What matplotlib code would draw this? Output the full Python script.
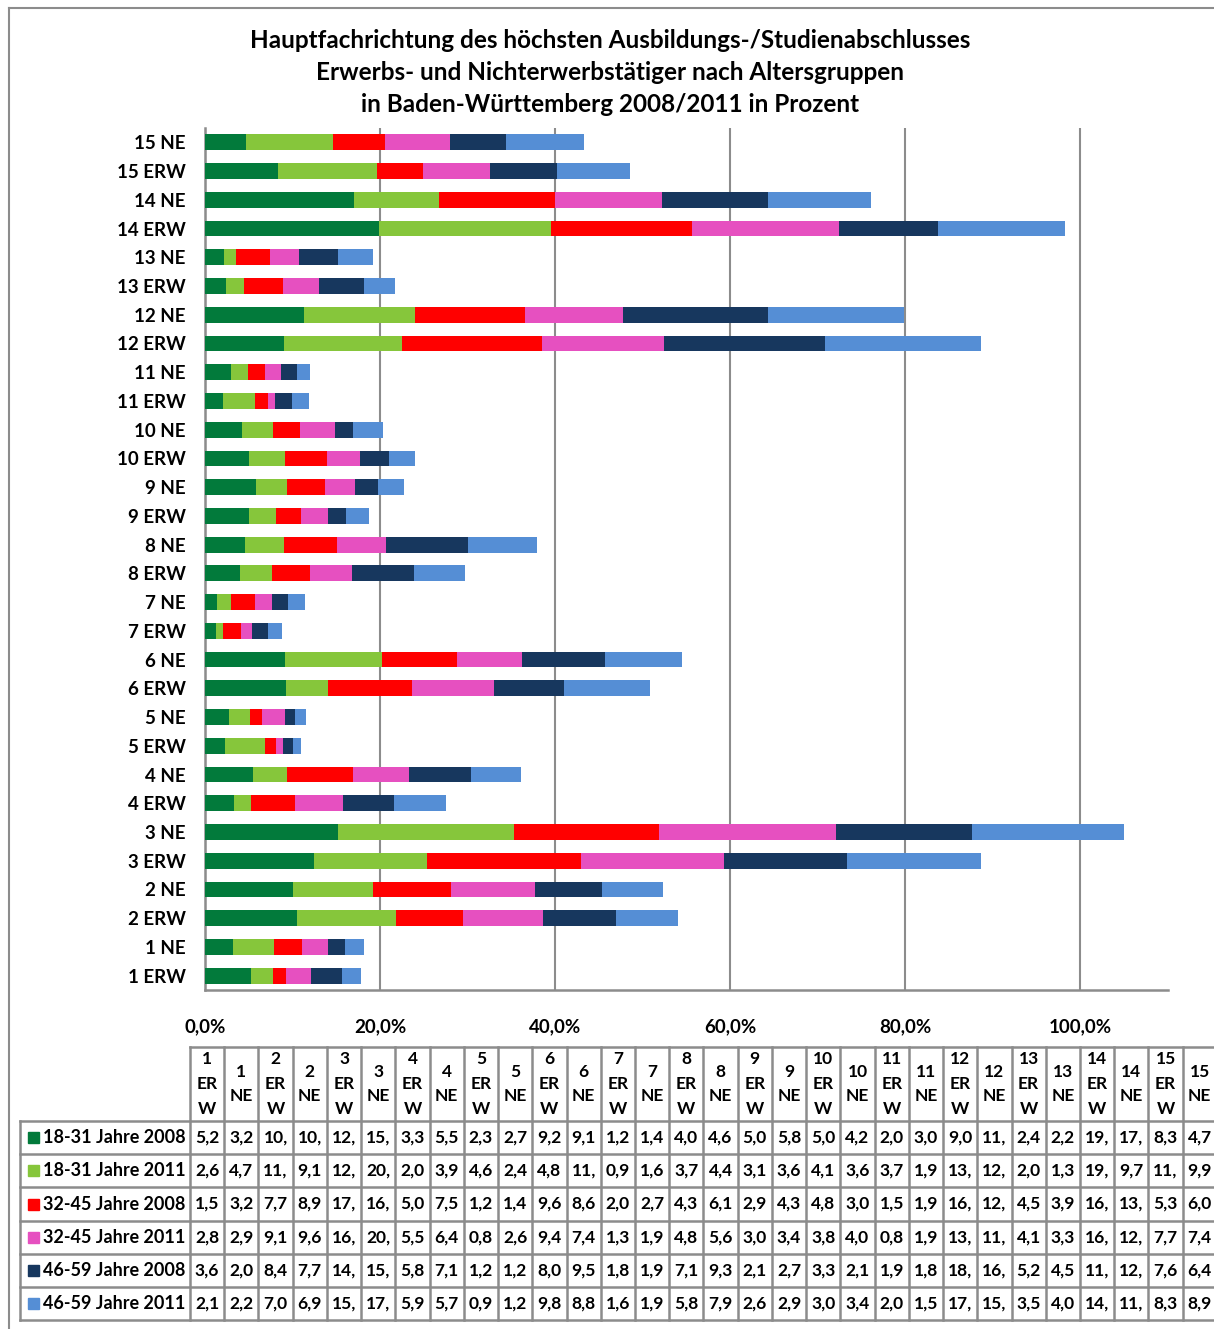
import matplotlib.pyplot as plt
import numpy as np
from matplotlib.lines import Line2D
from matplotlib.patches import Rectangle

plt.rcParams['font.family'] = ['Lato', 'DejaVu Sans']

categories = ["1 ERW", "1 NE", "2 ERW", "2 NE", "3 ERW", "3 NE", "4 ERW", "4 NE",
              "5 ERW", "5 NE", "6 ERW", "6 NE", "7 ERW", "7 NE", "8 ERW", "8 NE",
              "9 ERW", "9 NE", "10 ERW", "10 NE", "11 ERW", "11 NE", "12 ERW", "12 NE",
              "13 ERW", "13 NE", "14 ERW", "14 NE", "15 ERW", "15 NE"]

series_names = ["18-31 Jahre 2008", "18-31 Jahre 2011", "32-45 Jahre 2008",
                "32-45 Jahre 2011", "46-59 Jahre 2008", "46-59 Jahre 2011"]

jung_2008 = [5.2, 3.2, 10.5, 10.1, 12.5, 15.2, 3.3, 5.5, 2.3, 2.7, 9.2, 9.1, 1.2, 1.4, 4.0,
             4.6, 5.0, 5.8, 5.0, 4.2, 2.0, 3.0, 9.0, 11.3, 2.4, 2.2, 19.9, 17.0, 8.3, 4.7]
jung_2011 = [2.6, 4.7, 11.3, 9.1, 12.9, 20.1, 2.0, 3.9, 4.6, 2.4, 4.8, 11.1, 0.9, 1.6, 3.7,
             4.4, 3.1, 3.6, 4.1, 3.6, 3.7, 1.9, 13.5, 12.7, 2.0, 1.3, 19.6, 9.7, 11.3, 9.9]
mitte_2008 = [1.5, 3.2, 7.7, 8.9, 17.5, 16.6, 5.0, 7.5, 1.2, 1.4, 9.6, 8.6, 2.0, 2.7, 4.3,
              6.1, 2.9, 4.3, 4.8, 3.0, 1.5, 1.9, 16.0, 12.5, 4.5, 3.9, 16.1, 13.3, 5.3, 6.0]
mitte_2011 = [2.8, 2.9, 9.1, 9.6, 16.4, 20.2, 5.5, 6.4, 0.8, 2.6, 9.4, 7.4, 1.3, 1.9, 4.8,
              5.6, 3.0, 3.4, 3.8, 4.0, 0.8, 1.9, 13.9, 11.3, 4.1, 3.3, 16.8, 12.2, 7.7, 7.4]
alt_2008 = [3.6, 2.0, 8.4, 7.7, 14.0, 15.5, 5.8, 7.1, 1.2, 1.2, 8.0, 9.5, 1.8, 1.9, 7.1,
            9.3, 2.1, 2.7, 3.3, 2.1, 1.9, 1.8, 18.4, 16.5, 5.2, 4.5, 11.3, 12.1, 7.6, 6.4]
alt_2011 = [2.1, 2.2, 7.0, 6.9, 15.3, 17.4, 5.9, 5.7, 0.9, 1.2, 9.8, 8.8, 1.6, 1.9, 5.8,
            7.9, 2.6, 2.9, 3.0, 3.4, 2.0, 1.5, 17.8, 15.6, 3.5, 4.0, 14.5, 11.8, 8.3, 8.9]

colors = ["#027a3b", "#86c63b", "#ff0000", "#e650c0", "#17375e", "#558ed5"]

values = [jung_2008, jung_2011, mitte_2008, mitte_2011, alt_2008, alt_2011]

W, H = 1214, 1329
fig = plt.figure(figsize=(W / 100, H / 100), dpi=100)


def fx(x):
    return x / W


def fy(y):
    return 1 - y / H


grid_col = "#8c8c8c"

# outer chart frame
fig.add_artist(Line2D([fx(9), fx(9)], [fy(8), fy(H)], color=grid_col, lw=1.5))
fig.add_artist(Line2D([fx(9), fx(W)], [fy(8), fy(8)], color=grid_col, lw=1.5))

title_lines = ["Hauptfachrichtung des höchsten Ausbildungs-/Studienabschlusses",
               "Erwerbs- und Nichterwerbstätiger nach Altersgruppen",
               "in Baden-Württemberg 2008/2011 in Prozent"]
for i, line in enumerate(title_lines):
    fig.text(fx(610), fy(40 + 32 * i), line, ha="center", va="center",
             fontsize=17.5, fontweight="bold")

ax = fig.add_axes([fx(205), fy(990), fx(1168) - fx(205), fy(128) - fy(990)])
y = np.arange(len(categories))
left = np.zeros(len(categories))
for name, vals, c in zip(series_names, values, colors):
    ax.barh(y, vals, left=left, height=0.55, color=c, label=name, zorder=3)
    left += np.array(vals)

ax.set_xlim(0, 110)
ax.set_ylim(-0.5, len(categories) - 0.5)
ax.set_xticks([0, 20, 40, 60, 80, 100])
ax.set_xticklabels([f"{t:.1f}%".replace(".", ",") for t in [0, 20, 40, 60, 80, 100]],
                   fontsize=13.5, fontweight="bold")
ax.set_yticks(y)
ax.set_yticklabels(categories, fontsize=13.5, fontweight="bold")
ax.tick_params(axis="both", length=0)
ax.tick_params(axis="x", pad=20)
ax.tick_params(axis="y", pad=14)
ax.grid(axis="x", color=grid_col, lw=1.5, zorder=0)
for s in ["top", "right"]:
    ax.spines[s].set_visible(False)
for s in ["left", "bottom"]:
    ax.spines[s].set_color(grid_col)
    ax.spines[s].set_linewidth(1.8)

# data table below the chart
x0, col_w = 190, 34.23
lab_x0 = 20
y_head, y_rows = 1047, 1121
row_h = 33.2
n = len(categories)
x_end = x0 + n * col_w
y_end = y_rows + len(series_names) * row_h

fig.add_artist(Line2D([fx(x0), fx(x_end)], [fy(y_head), fy(y_head)], color=grid_col, lw=1.8))
for k in range(n + 1):
    xx = x0 + k * col_w
    fig.add_artist(Line2D([fx(xx), fx(xx)], [fy(y_head), fy(y_end)], color=grid_col, lw=1.8))
for r in range(len(series_names) + 1):
    yy = y_rows + r * row_h
    fig.add_artist(Line2D([fx(lab_x0), fx(x_end)], [fy(yy), fy(yy)], color=grid_col, lw=1.8))
fig.add_artist(Line2D([fx(lab_x0), fx(lab_x0)], [fy(y_rows), fy(y_end)], color=grid_col, lw=1.8))

for k, cat in enumerate(categories):
    num, kind = cat.split()
    parts = [num, "ER", "W"] if kind == "ERW" else [num, kind]
    ym = (y_head + y_rows) / 2
    for j, p in enumerate(parts):
        yy = ym + (j - (len(parts) - 1) / 2) * 24.5
        fig.text(fx(x0 + (k + 0.5) * col_w), fy(yy), p, ha="center", va="center",
                 fontsize=12.5, fontweight="bold")

for r, (name, vals, c) in enumerate(zip(series_names, values, colors)):
    yc = y_rows + (r + 0.5) * row_h
    fig.add_artist(Rectangle((fx(28), fy(yc + 5.5)), fx(11), 11 / H, color=c,
                             transform=fig.transFigure))
    fig.text(fx(43), fy(yc), name, ha="left", va="center", fontsize=13, fontweight="bold")
    for k, v in enumerate(vals):
        txt = f"{v:.1f}".replace(".", ",")[:3]
        fig.text(fx(x0 + (k + 0.5) * col_w), fy(yc), txt, ha="center", va="center",
                 fontsize=12.5, fontweight="bold")

fig.savefig("out.png", dpi=100)
